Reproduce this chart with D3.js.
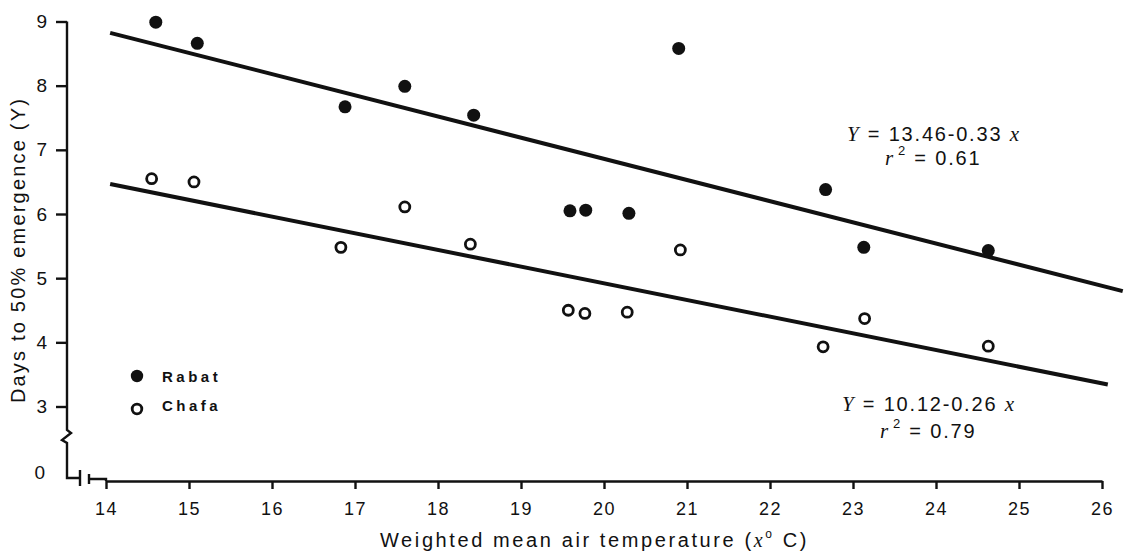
<!DOCTYPE html>
<html>
<head>
<meta charset="utf-8">
<script src="https://cdn.jsdelivr.net/npm/d3@7"></script>
<style>
  html, body { margin: 0; padding: 0; background: #fff; }
  svg { display: block; }
  text { font-family: "Liberation Sans", Arial, sans-serif; fill: #111; }
  .it { font-family: "Liberation Serif", "Times New Roman", serif; font-style: italic; }
</style>
</head>
<body>
<svg id="chart" width="1134" height="558"></svg>
<script>
// Temperature (°C) and days to 50% emergence at the two sites
const rabatTemp = [14.60, 15.10, 16.88, 17.60, 18.43, 19.59, 19.78, 20.30, 20.90, 22.67, 23.13, 24.63];
const rabatDays = [8.99, 8.66, 7.67, 7.99, 7.54, 6.05, 6.06, 6.01, 8.58, 6.38, 5.48, 5.43];
const chafaTemp = [14.55, 15.06, 16.83, 17.60, 18.39, 19.57, 19.77, 20.28, 20.92, 22.64, 23.14, 24.63];
const chafaDays = [6.55, 6.50, 5.48, 6.11, 5.53, 4.50, 4.45, 4.47, 5.44, 3.93, 4.37, 3.94];

// Fitted regressions: Y = a + b x
const fitNames = ["Rabat", "Chafa"];
const fitIntercept = [13.46, 10.12];
const fitSlope = [-0.33, -0.26];
const fitR2 = ["0.61", "0.79"];
const fitFrom = [14.05, 14.05];
const fitTo = [26.25, 26.07];

const xTicks = [14, 15, 16, 17, 18, 19, 20, 21, 22, 23, 24, 25, 26];
const yTicks = [3, 4, 5, 6, 7, 8, 9];

const svg = d3.select("#chart");
const x = d3.scaleLinear().domain([14, 26]).range([106, 1102]);
const y = d3.scaleLinear().domain([3, 9]).range([406.5, 21.5]);
const axisY0 = 481;   // baseline of the (broken) x axis
const axisX0 = 67;    // position of the y axis

const ink = "#111";

// x axis
const gx = svg.append("g")
  .attr("transform", `translate(0,${axisY0})`)
  .call(d3.axisBottom(x).tickValues(xTicks).tickFormat(d3.format("d"))
    .tickSize(8).tickSizeOuter(0).tickPadding(13));
gx.select(".domain").attr("stroke", ink).attr("stroke-width", 2.4);
gx.selectAll(".tick line").attr("stroke", ink).attr("stroke-width", 2.4);
gx.selectAll(".tick text").attr("font-size", 18).attr("letter-spacing", 1.5)
  .attr("font-family", "Liberation Sans, Arial, sans-serif").attr("fill", ink);

// y axis (domain drawn separately with the break)
const gy = svg.append("g")
  .attr("transform", `translate(${axisX0},0)`)
  .call(d3.axisLeft(y).tickValues(yTicks).tickFormat(d3.format("d"))
    .tickSize(11).tickSizeOuter(0).tickPadding(9));
gy.select(".domain").remove();
gy.selectAll(".tick line").attr("stroke", ink).attr("stroke-width", 2.4);
gy.selectAll(".tick text").attr("font-size", 19)
  .attr("font-family", "Liberation Sans, Arial, sans-serif").attr("fill", ink);

// broken axes: y axis line with zig-zag, corner at zero, and the x-axis gap
const yTop = y(9);
const brk = d3.path();
brk.moveTo(axisX0, yTop);
brk.lineTo(axisX0, 430);
brk.lineTo(71, 433);
brk.lineTo(62, 440);
brk.lineTo(axisX0, 443);
brk.lineTo(axisX0, 478);
brk.lineTo(80, 478);
brk.moveTo(80, 470); brk.lineTo(80, 486);
brk.moveTo(89, 474); brk.lineTo(89, 484);
brk.moveTo(89, 479); brk.lineTo(x(14), 479);
brk.lineTo(x(14), axisY0);
svg.append("path").attr("d", brk.toString())
  .attr("fill", "none").attr("stroke", ink).attr("stroke-width", 2.4)
  .attr("stroke-linejoin", "miter");

// zero label of the broken y axis
svg.append("text").attr("x", 45).attr("y", 479)
  .attr("text-anchor", "end").attr("font-size", 19).text("0");

// regression lines
fitNames.forEach((name, i) => {
  const pts = [fitFrom[i], fitTo[i]].map(t => [x(t), y(fitIntercept[i] + fitSlope[i] * t)]);
  svg.append("path")
    .attr("d", d3.line()(pts))
    .attr("stroke", ink).attr("stroke-width", 4).attr("fill", "none")
    .attr("stroke-linecap", "butt");
});

// Rabat: filled dots
svg.append("g").selectAll("circle")
  .data(d3.zip(rabatTemp, rabatDays))
  .join("circle")
  .attr("cx", d => x(d[0])).attr("cy", d => y(d[1]))
  .attr("r", 6.5).attr("fill", ink);

// Chafa: open circles
svg.append("g").selectAll("circle")
  .data(d3.zip(chafaTemp, chafaDays))
  .join("circle")
  .attr("cx", d => x(d[0])).attr("cy", d => y(d[1]))
  .attr("r", 5).attr("fill", "#fff").attr("stroke", ink).attr("stroke-width", 2.8);

// legend
const lg = svg.append("g");
lg.append("circle").attr("cx", 137).attr("cy", 376).attr("r", 6.2).attr("fill", ink);
lg.append("text").attr("x", 162).attr("y", 382).attr("font-size", 15)
  .attr("letter-spacing", 3.5).attr("font-weight", "bold").text("Rabat");
lg.append("circle").attr("cx", 137).attr("cy", 409).attr("r", 4.8)
  .attr("fill", "#fff").attr("stroke", ink).attr("stroke-width", 2.8);
lg.append("text").attr("x", 162).attr("y", 411).attr("font-size", 15)
  .attr("letter-spacing", 3.5).attr("font-weight", "bold").text("Chafa");

// regression equations
const eqPos = [{x: 847, y: 141, rx: 885, ry: 165}, {x: 842, y: 411, rx: 880, ry: 438}];
fitNames.forEach((name, i) => {
  const p = eqPos[i];
  const t = svg.append("text").attr("x", p.x).attr("y", p.y).attr("font-size", 20)
    .attr("letter-spacing", 1.8).attr("xml:space", "preserve");
  t.append("tspan").attr("class", "it").attr("font-size", 21).text("Y");
  t.append("tspan").text(` = ${fitIntercept[i].toFixed(2)}-${Math.abs(fitSlope[i]).toFixed(2)} `);
  t.append("tspan").attr("class", "it").attr("font-size", 21).text("x");
  const r = svg.append("text").attr("x", p.rx).attr("y", p.ry).attr("font-size", 20)
    .attr("letter-spacing", 1.8).attr("xml:space", "preserve");
  r.append("tspan").attr("class", "it").attr("font-size", 21).text("r");
  r.append("tspan").attr("font-size", 13).attr("dy", -10).attr("dx", 3).text("2");
  r.append("tspan").attr("dy", 10).text(` = ${fitR2[i]}`);
});

// axis titles
const xt = svg.append("text").attr("x", 380).attr("y", 547).attr("font-size", 20)
  .attr("letter-spacing", 2.6).attr("xml:space", "preserve");
xt.append("tspan").text("Weighted mean air temperature (");
xt.append("tspan").attr("class", "it").text("x");
xt.append("tspan").attr("font-size", 12).attr("dy", -9).text("o");
xt.append("tspan").attr("dy", 9).text(" C)");

svg.append("text")
  .attr("transform", "translate(25,250) rotate(-90)")
  .attr("text-anchor", "middle").attr("font-size", 20).attr("letter-spacing", 2.2)
  .text("Days to 50% emergence (Y)");
</script>
</body>
</html>
